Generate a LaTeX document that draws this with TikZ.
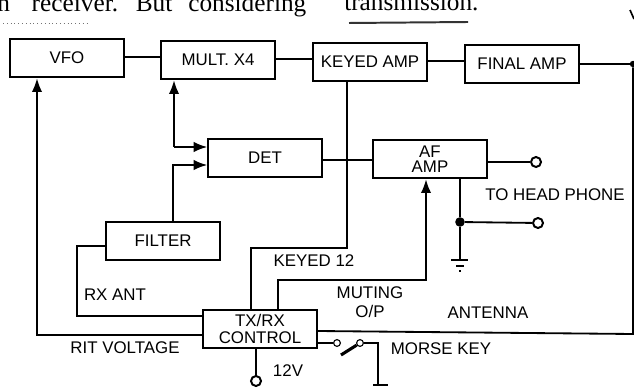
\documentclass[tikz,border=0pt]{standalone}
\usepackage{fontspec}
\setmainfont{Liberation Sans}
\newfontfamily\bodyserif{Liberation Serif}
\usetikzlibrary{positioning,arrows.meta,calc}
\tikzset{
  rxbox/.style={rectangle, draw=black, line width=1.3pt, minimum width=28.4mm, minimum height=9.7mm,
                inner sep=0pt, align=center, font=\fontsize{12}{11.5}\selectfont},
  rxlab/.style={font=\fontsize{12}{13.5}\selectfont, inner sep=0pt, align=center},
  rxwire/.style={draw=black, line width=1.3pt},
  rxsig/.style={rxwire, -{Latex[length=3.4mm,width=2.6mm]}},
  rxterm/.style={circle, draw=black, line width=1.4pt, fill=white, minimum size=2.5mm, inner sep=0pt},
  rxcontact/.style={circle, draw=black, line width=0.8pt, fill=white, minimum size=1.7mm, inner sep=0pt},
  rxdot/.style={circle, fill=black, minimum size=2.4mm, inner sep=0pt},
  pagetext/.style={font=\bodyserif\fontsize{18}{20}\selectfont, inner sep=0pt, anchor=base west},
}

\begin{document}
\begin{tikzpicture}[x=0.25mm,y=-0.25mm]
  \useasboundingbox (0,0) rectangle (634,389);
  % text of the page above the figure
  \node[pagetext] (PA) at (-3,12) {n\hspace{0.86em}receiver.\hspace{0.7em}But\hspace{0.63em}considering};
  \node[pagetext] (PB) at (344,11) {transmission.};
  \draw[line width=1.4pt, black!80] (349,23) -- (468,22);
  \draw[dotted, line width=0.7pt, black!55] (3,23) -- (90,23);
  \draw[line width=1.2pt] (630,10) -- (634,19);
  % blocks
  \node[rxbox] (VFO) at (67,58) {VFO};
  \node[rxbox] (MULT) at (218,60) {MULT. X4};
  \node[rxbox] (KEY) at (370,62) {KEYED AMP};
  \node[rxbox] (FIN) at (522,64) {FINAL AMP};
  \node[rxbox] (DET) at (265,158) {DET};
  \node[rxbox] (AF) at (430,159) {AF\\[-1pt]AMP};
  \node[rxbox] (FIL) at (163,241) {FILTER};
  \node[rxbox] (CTL) at (260,329) {TX/RX\\CONTROL};
  % free ends
  \node[rxterm] (PH1) at (536,162) {};
  \node[rxterm] (PH2) at (538,223) {};
  \node[rxterm] (V12) at (256,381) {};
  \node[rxdot] (JN) at (460,222) {};
  \node[rxdot, minimum size=1.6mm] (ANT) at (633,64) {};
  \node[rxcontact] (KA) at (337,343) {};
  \node[rxcontact] (KB) at (360,343) {};
  \coordinate (MJ) at (174,147);
  \coordinate (FJ) at (173,165);
  \coordinate (GND) at (460,260);
  \coordinate (KGND) at (378,385);
  % chain along the top
  \draw[rxwire] (VFO.east |- 0,57) -- (MULT.west |- 0,57);
  \draw[rxwire] (MULT.east |- 0,59) -- (KEY.west |- 0,59);
  \draw[rxwire] (KEY.east |- 0,61) -- (FIN.west |- 0,61);
  \draw[rxwire] (FIN.east |- ANT) -- (ANT);
  \draw[rxwire] (DET.east |- 0,160) -- (AF.west |- 0,160);
  \draw[rxwire] (AF.east |- PH1) -- (PH1);
  % receive path
  \draw[rxsig] (MJ) -- (MJ |- MULT.south);
  \draw[rxsig] (MJ) -- (MJ -| DET.west);
  \draw[rxsig] (FIL.north -| FJ) -- (FJ) -- (FJ -| DET.west);
  \draw[rxwire] (FIL.west |- 0,246) -- (77,246) -- (77,316) -- (CTL.west |- 0,316);
  \draw[rxsig] (CTL.west |- 0,335) -- (37,335) -- (37,0 |- VFO.south);
  % control lines
  \draw[rxwire] (KEY.south -| 347,0) -- (347,248) -- (251,248) -- (CTL.north -| 251,0);
  \draw[rxsig] (CTL.north -| 278,0) -- (278,280) -- (426,280) -- (AF.south -| 426,0);
  \draw[rxwire] (AF.south -| JN) -- (JN) -- (GND);
  \draw[rxwire] (JN) -- (PH2);
  \draw[rxwire] (451,260) -- (468,260) (456,266) -- (464,266) (459,271) -- (461,271);
  \draw[rxwire] (CTL.east |- 0,331) -- (633,334) -- (ANT);
  \draw[rxwire] (CTL.south -| V12) -- (V12);
  % morse key
  \draw[rxwire] (CTL.east |- KA) -- (KA);
  \draw[rxwire] (KB) -- (KB -| KGND) -- (KGND);
  \draw[rxwire] (373,385) -- (388,385);
  \draw[line width=2.2pt] (341,355) -- (KB);
  % labels
  \node[rxlab] (L1) at (125,348) {RIT VOLTAGE};
  \node[rxlab] (L2) at (115,295) {RX ANT};
  \node[rxlab] (L3) at (314,261) {KEYED 12};
  \node[rxlab] (L4) at (370,302) {MUTING\\O/P};
  \node[rxlab] (L5) at (488,313) {ANTENNA};
  \node[rxlab] (L6) at (441,349) {MORSE KEY};
  \node[rxlab] (L7) at (555,195) {TO HEAD PHONE};
  \node[rxlab] (L8) at (288,371) {12V};
\end{tikzpicture}
\end{document}
